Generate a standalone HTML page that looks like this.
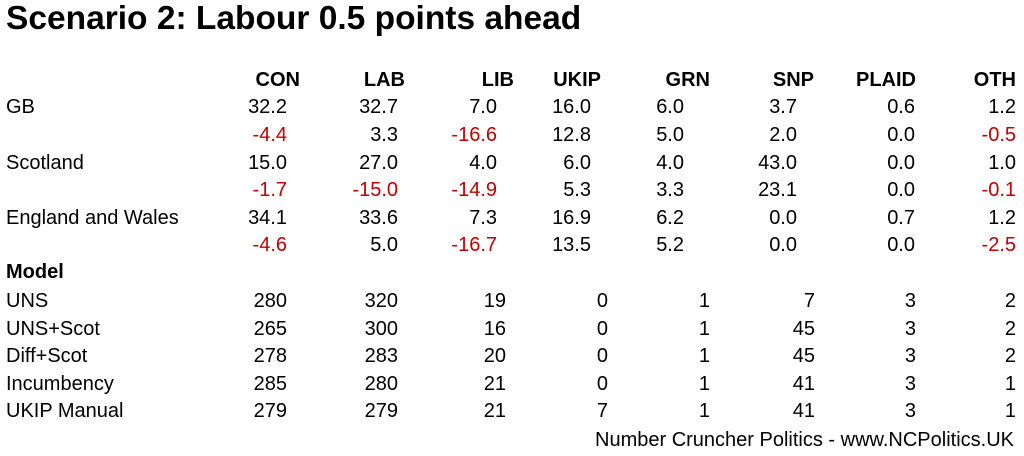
<!DOCTYPE html>
<html><head><meta charset="utf-8"><style>
body{margin:0;width:1024px;height:456px;background:#fff;position:relative;overflow:hidden;font-family:"Liberation Sans",Arial,sans-serif;color:#000}
.t{position:absolute;white-space:nowrap;font-size:20px;line-height:24px}
.r{transform:translateX(-100%)}
.b{font-weight:bold}
.red{color:#c00000}
</style></head><body>
<div class="t b" style="left:6px;top:0px;font-size:33.5px;line-height:38px">Scenario 2: Labour 0.5 points ahead</div>
<div id="c"></div>
<div class="t r" style="left:1014px;top:428px;font-size:20px">Number Cruncher Politics - www.NCPolitics.UK</div>
<script>
var c=document.getElementById('c'),h='';
function t(x,y,s,cl){h+='<div class="t '+(cl||'')+'" style="left:'+x+'px;top:'+(y-12)+'px">'+s+'</div>';}
var hd=['CON','LAB','LIB','UKIP','GRN','SNP','PLAID','OTH'],hr=[300,405,514,601,710,814,916,1016];
hd.forEach(function(s,i){t(hr[i],80,s,'r b');});
var dr=[287,398,497,591,684,797,915,1016],ir=[287,398,506,608,710,815,916,1016];
var rows=[['GB',107,'32.2 32.7 7.0 16.0 6.0 3.7 0.6 1.2'],['',135,'-4.4 3.3 -16.6 12.8 5.0 2.0 0.0 -0.5'],
['Scotland',163,'15.0 27.0 4.0 6.0 4.0 43.0 0.0 1.0'],['',190,'-1.7 -15.0 -14.9 5.3 3.3 23.1 0.0 -0.1'],
['England and Wales',218,'34.1 33.6 7.3 16.9 6.2 0.0 0.7 1.2'],['',245,'-4.6 5.0 -16.7 13.5 5.2 0.0 0.0 -2.5']];
rows.forEach(function(r){if(r[0])t(6,r[1],r[0]);r[2].split(' ').forEach(function(v,i){t(dr[i],r[1],v,'r'+(v[0]=='-'?' red':''));});});
t(6,272,'Model','b');
var m=[['UNS',301,'280 320 19 0 1 7 3 2'],['UNS+Scot',329,'265 300 16 0 1 45 3 2'],['Diff+Scot',356,'278 283 20 0 1 45 3 2'],
['Incumbency',384,'285 280 21 0 1 41 3 1'],['UKIP Manual',411,'279 279 21 7 1 41 3 1']];
m.forEach(function(r){t(6,r[1],r[0]);r[2].split(' ').forEach(function(v,i){t(ir[i],r[1],v,'r');});});
c.innerHTML=h;
</script>
</body></html>
